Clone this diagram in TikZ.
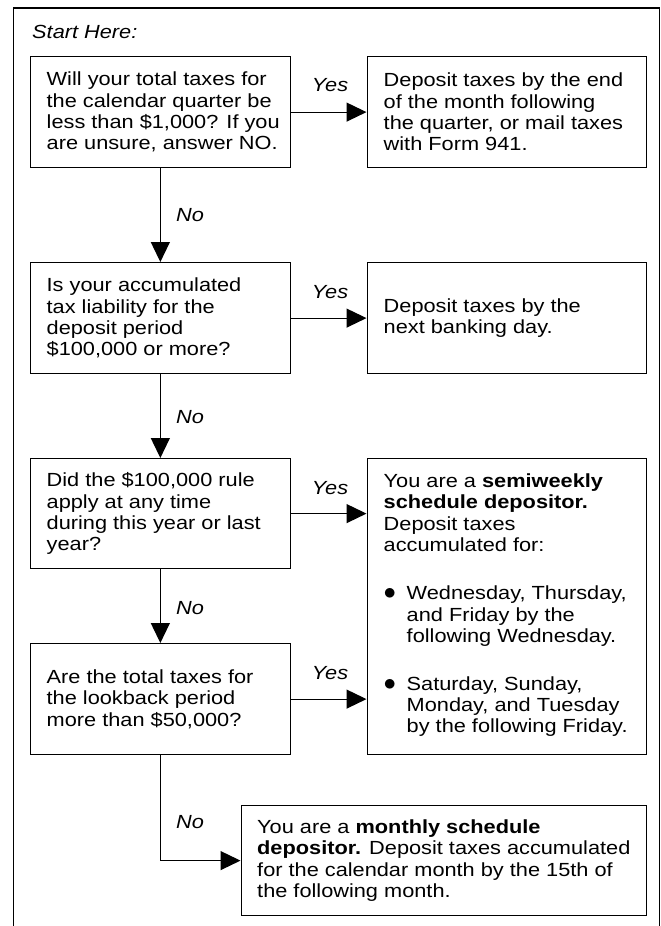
\documentclass[tikz,border=0pt]{standalone}
\usepackage{fontspec}
\setmainfont{Liberation Sans}[FakeStretch=1.145]
\usetikzlibrary{arrows.meta}
\newcommand{\bigbul}{\makebox[23pt][l]{\fontsize{24pt}{0pt}\selectfont$\bullet$}}
\tikzset{
  box/.style={draw, line width=1.2pt, inner sep=0pt, anchor=north west},
  txt/.style={inner sep=0pt, align=left, font=\fontsize{19pt}{21.3pt}\selectfont},
  lbl/.style={inner sep=0pt, font=\fontsize{19pt}{21.3pt}\selectfont\itshape},
  arr/.style={line width=1.2pt, -{Triangle[length=20pt,width=19pt]}},
  frame/.style={line width=1.2pt}
}
\begin{document}
\begin{tikzpicture}[x=1pt,y=-1pt]
\useasboundingbox (0,0) rectangle (661,926);
% outer frame (no bottom edge)
\draw[frame] (13.5,926) -- (13.5,8) -- (659.5,8) -- (659.5,926);
\node[lbl, anchor=base west] (start) at (32,38.5) {Start Here:};
% boxes
\node[box, minimum width=260.5pt, minimum height=111pt] (b1) at (29.5,56) {};
\node[box, minimum width=279pt, minimum height=111pt] (b2) at (366.5,56) {};
\node[box, minimum width=260.5pt, minimum height=111pt] (b3) at (29.5,262) {};
\node[box, minimum width=279pt, minimum height=111pt] (b4) at (366.5,262) {};
\node[box, minimum width=260.5pt, minimum height=110pt] (b5) at (29.5,458) {};
\node[box, minimum width=279pt, minimum height=295.5pt] (b6) at (366.5,458) {};
\node[box, minimum width=260.5pt, minimum height=111pt] (b7) at (29.5,643) {};
\node[box, minimum width=405pt, minimum height=110pt] (b8) at (240.5,805) {};
% texts
\node[txt, anchor=west] (t1) at ([xshift=17pt]b1.west) {Will your total taxes for\\the calendar quarter be\\less than \$1,000? If you\\are unsure, answer NO.};
\node[txt, anchor=west] (t2) at ([xshift=17pt]b2.west) {Deposit taxes by the end\\of the month following\\the quarter, or mail taxes\\with Form 941.};
\node[txt, anchor=west] (t3) at ([xshift=17pt]b3.west) {Is your accumulated\\tax liability for the\\deposit period\\\$100,000 or more?};
\node[txt, anchor=west] (t4) at ([xshift=17pt]b4.west) {Deposit taxes by the\\next banking day.};
\node[txt, anchor=west] (t5) at ([xshift=17pt]b5.west) {Did the \$100,000 rule\\apply at any time\\during this year or last\\year?};
\node[txt, anchor=north west] (t6) at ([xshift=17pt,yshift=-15.6pt]b6.north west) {You are a \textbf{semiweekly}\\\textbf{schedule depositor.}\\Deposit taxes\\accumulated for:\\[27pt]\bigbul Wednesday, Thursday,\\\hspace*{23pt}and Friday by the\\\hspace*{23pt}following Wednesday.\\[26.5pt]\bigbul Saturday, Sunday,\\\hspace*{23pt}Monday, and Tuesday\\\hspace*{23pt}by the following Friday.};
\node[txt, anchor=west] (t7) at ([xshift=17pt]b7.west) {Are the total taxes for\\the lookback period\\more than \$50,000?};
\node[txt, anchor=west] (t8) at ([xshift=16.5pt]b8.west) {You are a \textbf{monthly schedule}\\\textbf{depositor.} Deposit taxes accumulated\\for the calendar month by the 15th of\\the following month.};
% yes arrows
\draw[arr] (b1.east) -- (b2.west);
\draw[arr] (b3.east) -- (b4.west);
\draw[arr] (b5.east) -- (b5.east -| b6.west);
\draw[arr] (b7.east) -- (b7.east -| b6.west);
% no arrows
\draw[arr] (b1.south) -- (b3.north);
\draw[arr] (b3.south) -- (b5.north);
\draw[arr] (b5.south) -- (b7.north);
\draw[arr] (b7.south) |- (b8.west);
% labels
\node[lbl] (y1) at (330,85) {Yes};
\node[lbl] (y2) at (330,292) {Yes};
\node[lbl] (y3) at (330,488) {Yes};
\node[lbl] (y4) at (330,673) {Yes};
\node[lbl] (n1) at (190,215) {No};
\node[lbl] (n2) at (190,417) {No};
\node[lbl] (n3) at (190,608) {No};
\node[lbl] (n4) at (190,822) {No};
\end{tikzpicture}
\end{document}
